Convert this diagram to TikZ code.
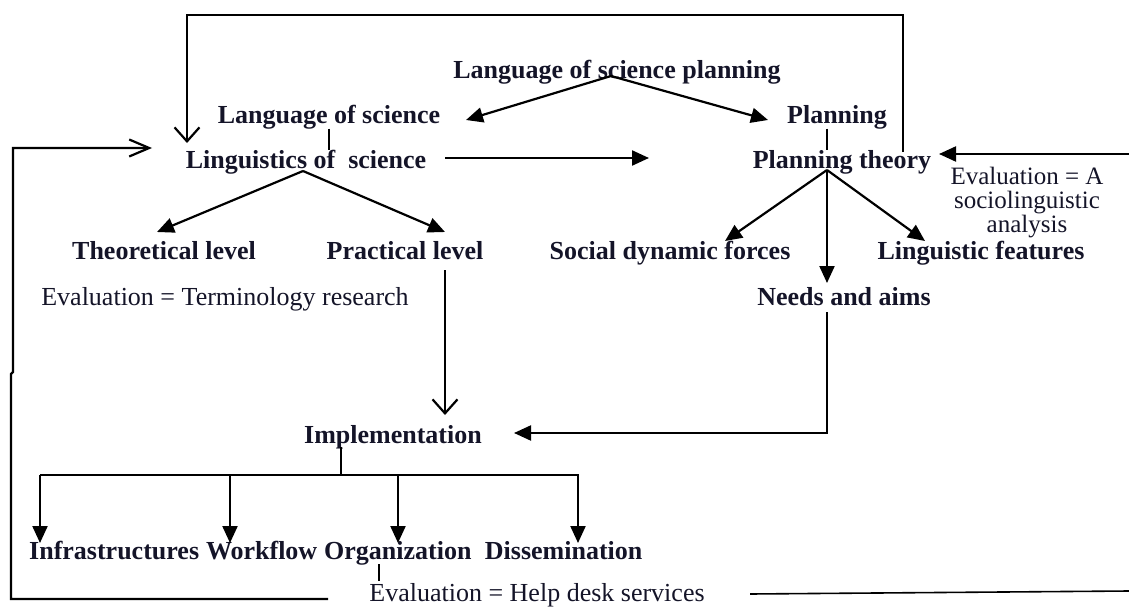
\documentclass[tikz,border=0pt]{standalone}
\usepackage{fontspec}
\setmainfont{Liberation Serif}
\usetikzlibrary{arrows.meta}
\definecolor{ink}{RGB}{20,20,40}
\begin{document}
\begin{tikzpicture}[x=1pt,y=-1pt,
  lbl/.style={font=\bfseries\fontsize{26}{21}\selectfont, inner sep=0pt, text height=18pt, text depth=5pt, text=ink},
  ev/.style={font=\fontsize{26}{23}\selectfont, inner sep=0pt, text=ink},
  ln/.style={line width=2.2pt, draw=black},
  fa/.style={ln, -{Triangle[length=17pt,width=15pt]}},
  oa/.style={ln, -{Straight Barb[length=14pt,width=25pt]}},
  oal/.style={ln, -{Straight Barb[length=20pt,width=17pt]}}]
\useasboundingbox (0,0) rectangle (1129,607);
% nodes
\node[lbl] (lsp) at (617,72) {Language of science planning};
\node[lbl] (los) at (329,117) {Language of science};
\node[lbl] (plan) at (837,117) {Planning};
\node[lbl] (lins) at (306,162) {Linguistics of\ \ science};
\node[lbl] (pt) at (842,162) {Planning theory};
\node[ev, align=center, font=\fontsize{25}{24}\selectfont] (eva) at (1027,203) {Evaluation = A\\sociolinguistic\\analysis};
\node[lbl] (tl) at (164,253) {Theoretical level};
\node[lbl] (pl) at (405,253) {Practical level};
\node[lbl] (sdf) at (670,253) {Social dynamic forces};
\node[lbl] (lf) at (981,253) {Linguistic features};
\node[ev] (evt) at (225,299) {Evaluation = Terminology research};
\node[lbl] (na) at (844,299) {Needs and aims};
\node[lbl] (impl) at (393,437) {Implementation};
\node[lbl, anchor=west] (inf) at (29,553) {Infrastructures};
\node[lbl, anchor=west] (wf) at ([xshift=6.5pt]inf.east) {Workflow};
\node[lbl, anchor=west] (org) at ([xshift=6.5pt]wf.east) {Organization};
\node[lbl, anchor=west] (dis) at ([xshift=13pt]org.east) {Dissemination};
\node[ev] (evh) at (537,595) {Evaluation = Help desk services};
% coordinates
\coordinate (lspapex) at (611,76);
\coordinate (lostip) at (466,120);
\coordinate (plantip) at (768,120);
\coordinate (linsstart) at (445,158);
\coordinate (linstip) at (649,158);
\coordinate (linsapex) at (303,171);
\coordinate (tltip) at (157,232);
\coordinate (pltip) at (445,232);
\coordinate (pltop) at (445,270);
\coordinate (impltip) at (445,415);
\coordinate (ptapex) at (827,170);
\coordinate (sdftip) at (725,241);
\coordinate (lftip) at (925,241);
\coordinate (natip) at (827,283);
\coordinate (nabot) at (827,312);
\coordinate (nacorner) at (827,433);
\coordinate (nastip) at (514,433);
\coordinate (implbot) at (341,447);
\coordinate (bus) at (341,475);
\coordinate (bus1) at (40,475);
\coordinate (bus4) at (579,475);
\coordinate (ptright) at (1129,154);
\coordinate (ptrighttip) at (939,154);
% connectors
\draw[fa] (lspapex) -- (lostip);
\draw[fa] (lspapex) -- (plantip);
\draw[ln] (los.south) -- (los.south |- lins.north);
\draw[ln] ([xshift=-10pt]plan.south) -- ([xshift=-10pt]plan.south |- pt.north);
\draw[fa] (linsstart) -- (linstip);
\draw[fa] (linsapex) -- (tltip);
\draw[fa] (linsapex) -- (pltip);
\draw[oa] (pltop) -- (impltip);
\draw[fa] (ptapex) -- (sdftip);
\draw[fa] (ptapex) -- (lftip);
\draw[fa] (ptapex) -- (natip);
\draw[ln, -{Triangle[length=17pt,width=15pt]}] (nabot) -- (nacorner) -- (nastip);
\draw[ln] (implbot) -- (bus);
\draw[ln] (bus1) -- (bus4);
\foreach \x/\n in {40/a,230/b,398/c,578/d}{
  \draw[fa] (\x,475) -- (\x,543);
}
\draw[ln] (379,564) -- (379,581);
% feedback loops
\coordinate (evhleft) at (328,599);
\coordinate (loopa) at (11,599);
\coordinate (loopb) at (11,374);
\coordinate (loopc) at (13,372);
\coordinate (loopd) at (13,148);
\coordinate (looptip) at (152,148);
\draw[oal] (evhleft) -- (loopa) -- (loopb) -- (loopc) -- (loopd) -- (looptip);
\coordinate (evhright) at (750,594);
\coordinate (evhrightend) at (1129,591);
\draw[ln, line width=1.6pt] (evhright) -- (evhrightend);
\draw[fa] (ptright) -- (ptrighttip);
\coordinate (topa) at (903,152);
\coordinate (topb) at (903,15);
\coordinate (topc) at (187,15);
\coordinate (toptip) at (187,143);
\draw[oa] (topa) -- (topb) -- (topc) -- (toptip);
\end{tikzpicture}
\end{document}
